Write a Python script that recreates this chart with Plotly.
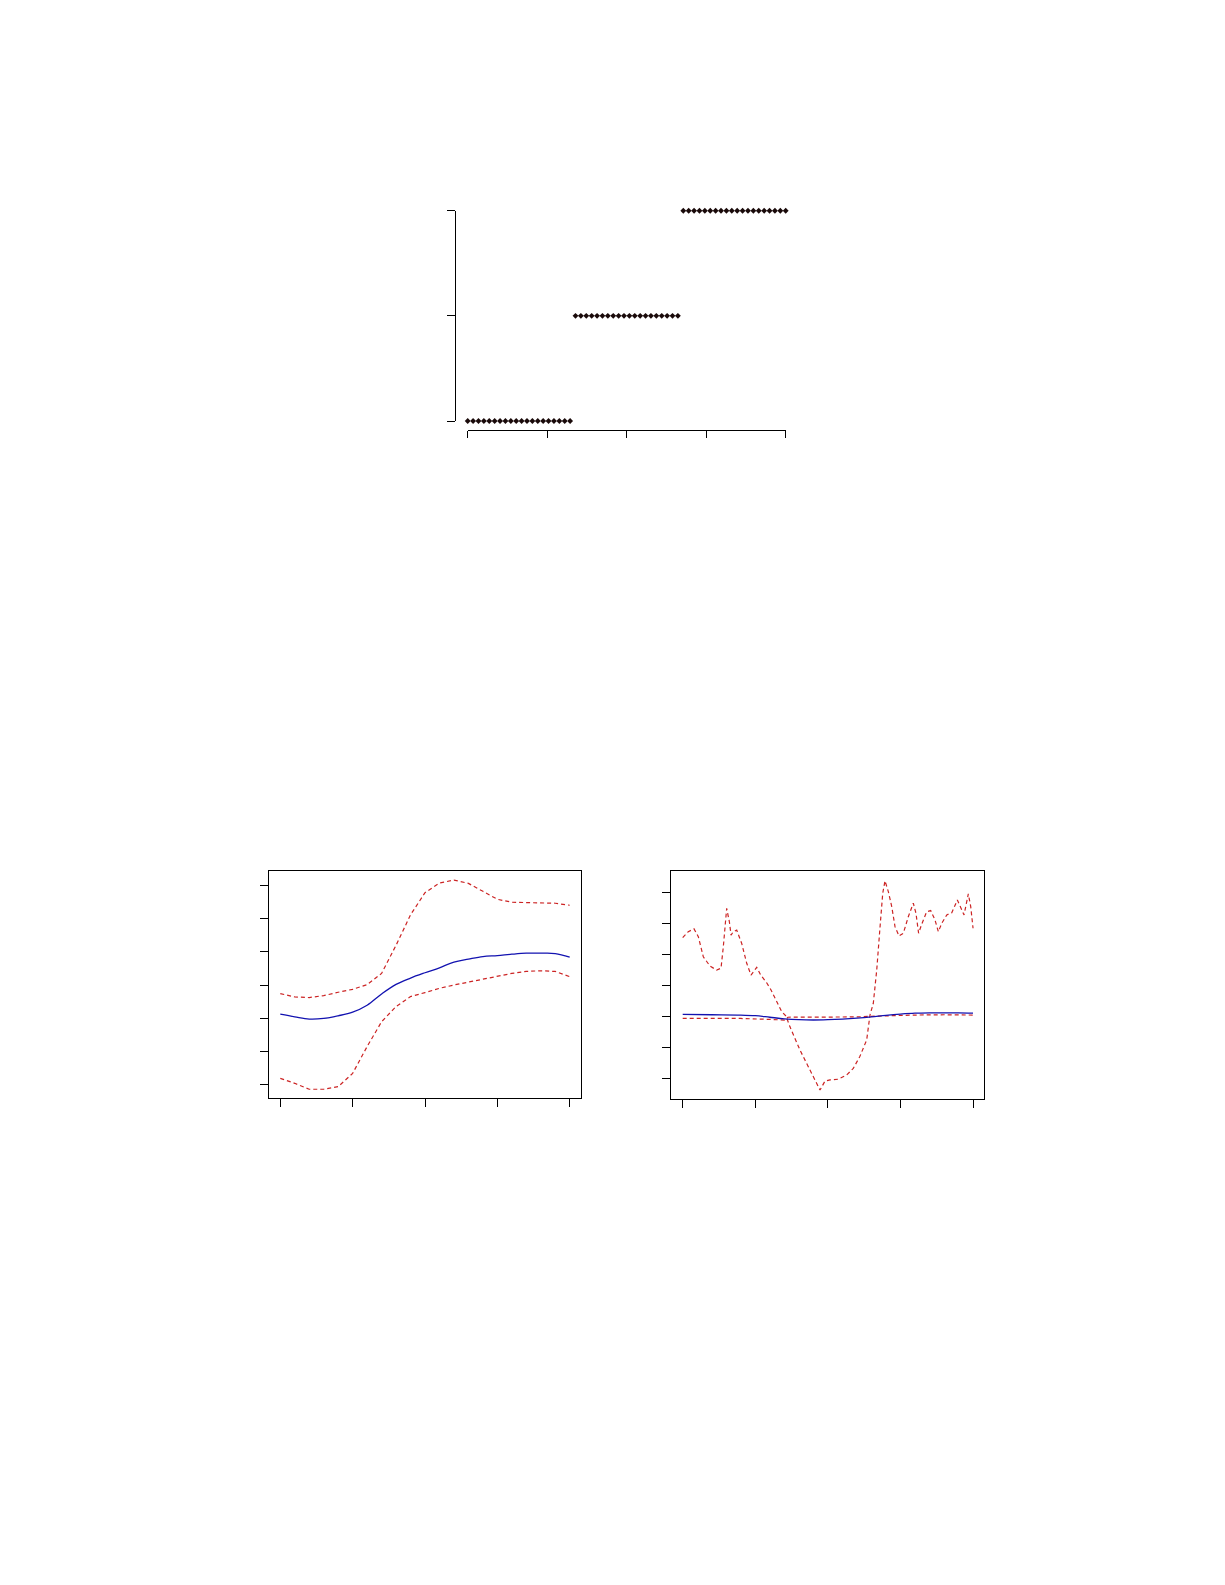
import plotly.graph_objects as go

# page body has an 8px margin, so the figure is shrunk and shifted by it
OFF = 8
W, H = 1225 - 2 * OFF, 1585 - 2 * OFF

# top panel: step data, 20 points per level
top_x = list(range(1, 61))
top_y = [0] * 20 + [1] * 20 + [2] * 20

# bottom left panel: estimate with lower / upper band
left_x = [0.0, 0.2, 0.4, 0.6, 0.8, 1.0, 1.2, 1.4, 1.6, 1.8, 2.0,
          2.2, 2.4, 2.6, 2.8, 3.0, 3.2, 3.4, 3.6, 3.8, 4.0]
left_mid = [2.12, 2.04, 1.97, 1.99, 2.07, 2.18, 2.39, 2.73, 3.02, 3.21, 3.37,
            3.52, 3.69, 3.78, 3.86, 3.89, 3.93, 3.96, 3.96, 3.95, 3.84]
left_hi = [2.74, 2.64, 2.62, 2.68, 2.78, 2.87, 3.01, 3.35, 4.20, 5.12, 5.79,
           6.08, 6.17, 6.07, 5.83, 5.59, 5.50, 5.49, 5.47, 5.47, 5.41]
left_lo = [0.18, 0.03, -0.15, -0.15, -0.07, 0.33, 1.14, 1.89, 2.35, 2.65, 2.77,
           2.90, 3.00, 3.09, 3.19, 3.27, 3.35, 3.41, 3.43, 3.41, 3.25]

# bottom right panel
right_mid_x = [0.0, 0.4, 0.8, 1.0, 1.2, 1.4, 1.6, 1.8, 2.0, 2.2, 2.4,
               2.6, 2.8, 3.0, 3.2, 3.4, 3.6, 3.8, 4.0]
right_mid = [2.06, 2.05, 2.04, 2.02, 1.97, 1.92, 1.89, 1.88, 1.89, 1.91, 1.94,
             1.98, 2.03, 2.07, 2.10, 2.11, 2.11, 2.11, 2.10]

right_b_x = [0.0, 0.8, 1.2, 1.4, 1.45, 2.0, 2.4, 2.6, 2.8, 3.2, 3.6, 4.0]
right_b = [1.93, 1.93, 1.90, 1.88, 1.97, 1.97, 1.98, 2.00, 2.02, 2.04, 2.05, 2.04]

right_a_x = [0.0, 0.077, 0.156, 0.215, 0.284, 0.376, 0.468, 0.528, 0.56, 0.606,
             0.643, 0.666, 0.698, 0.744, 0.813, 0.882, 0.941, 1.02, 1.075, 1.157,
             1.217, 1.295, 1.364, 1.423, 1.478, 1.616, 1.754, 1.892, 1.96, 2.03,
             2.145, 2.26, 2.35, 2.44, 2.535, 2.58, 2.626, 2.673, 2.719, 2.756,
             2.787, 2.833, 2.88, 2.925, 2.98, 3.04, 3.108, 3.177, 3.214, 3.25,
             3.29, 3.36, 3.417, 3.476, 3.522, 3.569, 3.638, 3.707, 3.784, 3.835,
             3.876, 3.935, 3.968, 4.0]
right_a = [4.54, 4.73, 4.82, 4.57, 3.92, 3.62, 3.49, 3.55, 4.25, 5.48,
           5.05, 4.62, 4.73, 4.78, 4.35, 3.71, 3.33, 3.58, 3.33, 3.08,
           2.85, 2.47, 2.15, 2.01, 1.66, 0.91, 0.27, -0.38, -0.09, -0.05,
           -0.03, 0.11, 0.32, 0.70, 1.24, 2.04, 2.42, 3.49, 4.89, 5.97,
           6.37, 6.02, 5.54, 4.89, 4.59, 4.68, 5.21, 5.65, 5.32, 4.68,
           4.95, 5.37, 5.41, 5.11, 4.73, 5.00, 5.27, 5.34, 5.75, 5.48,
           5.27, 5.95, 5.54, 4.84]

BLUE = "#1212b0"
RED = "#cc2424"


def px_x(a, b):
    return [(a - OFF) / W, (b - OFF) / W]


def px_y(top, bottom):
    return [1 - (bottom - OFF) / H, 1 - (top - OFF) / H]


fig = go.Figure()

fig.add_trace(go.Scatter(x=top_x, y=top_y, mode="markers", xaxis="x", yaxis="y",
                         marker=dict(symbol="diamond", size=4.5, color="#1a0a0a"),
                         cliponaxis=False))

fig.add_trace(go.Scatter(x=left_x, y=left_hi, mode="lines", xaxis="x2", yaxis="y2",
                         line=dict(color=RED, width=1.2, dash="4px,3px")))
fig.add_trace(go.Scatter(x=left_x, y=left_lo, mode="lines", xaxis="x2", yaxis="y2",
                         line=dict(color=RED, width=1.2, dash="4px,3px")))
fig.add_trace(go.Scatter(x=left_x, y=left_mid, mode="lines", xaxis="x2", yaxis="y2",
                         line=dict(color=BLUE, width=1.3, shape="spline")))

fig.add_trace(go.Scatter(x=right_a_x, y=right_a, mode="lines", xaxis="x3", yaxis="y3",
                         line=dict(color=RED, width=1.2, dash="4px,3px")))
fig.add_trace(go.Scatter(x=right_b_x, y=right_b, mode="lines", xaxis="x3", yaxis="y3",
                         line=dict(color=RED, width=1.2, dash="4px,3px")))
fig.add_trace(go.Scatter(x=right_mid_x, y=right_mid, mode="lines", xaxis="x3", yaxis="y3",
                         line=dict(color=BLUE, width=1.3, shape="spline")))

common = dict(showgrid=False, zeroline=False, showticklabels=False,
              ticks="outside", ticklen=8, tickwidth=1, tickcolor="black",
              showline=True, linecolor="black", linewidth=1)

fig.update_layout(
    width=W, height=H,
    margin=dict(l=0, r=0, t=0, b=0),
    paper_bgcolor="white", plot_bgcolor="white",
    showlegend=False,
    # top panel, R style axes not touching
    xaxis=dict(common, domain=px_x(467.7, 785.7), range=[1, 60],
               tickvals=[1, 15.75, 30.5, 45.25, 60], ticklen=7,
               anchor="free", position=1 - (430 - OFF) / H),
    yaxis=dict(common, domain=px_y(210.7, 421), range=[0, 2],
               tickvals=[0, 1, 2], anchor="free", position=(455 - OFF) / W),
    # bottom left
    xaxis2=dict(common, domain=px_x(268.7, 581.3), range=[-0.16, 4.16],
                tickvals=[0, 1, 2, 3, 4], anchor="y2", mirror=True),
    yaxis2=dict(common, domain=px_y(871.3, 1098.3), range=[-0.423, 6.435],
                tickvals=[0, 1, 2, 3, 4, 5, 6], anchor="x2", mirror=True),
    # bottom right
    xaxis3=dict(common, domain=px_x(671.3, 984), range=[-0.157, 4.151],
                tickvals=[0, 1, 2, 3, 4], anchor="y3", mirror=True),
    yaxis3=dict(common, domain=px_y(871.3, 1098.7), range=[-0.658, 6.677],
                tickvals=[0, 1, 2, 3, 4, 5, 6], anchor="x3", mirror=True),
)

fig.write_html("out.html")
